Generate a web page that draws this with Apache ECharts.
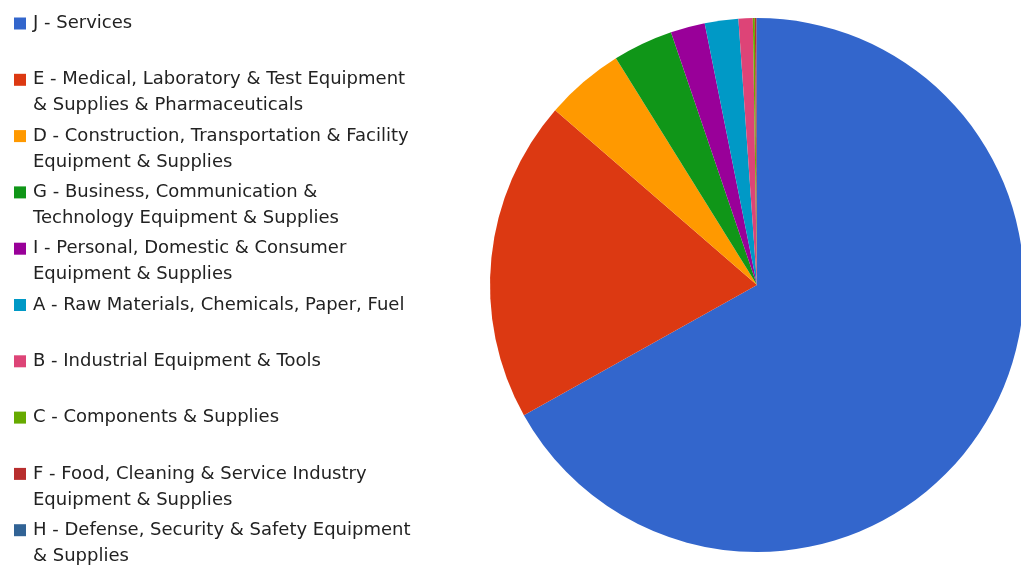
<!DOCTYPE html>
<html>
<head>
<meta charset="utf-8">
<style>
  html, body { margin: 0; padding: 0; background: #ffffff; }
  #chart { width: 1021px; height: 566px; }
</style>
<script src="https://cdn.jsdelivr.net/npm/echarts@6/dist/echarts.min.js"></script>
</head>
<body>
<div id="chart"></div>
<script>
// Segment names (line breaks as shown in the legend)
const categories = [
  'J - Services',
  'E - Medical, Laboratory & Test Equipment\n& Supplies & Pharmaceuticals',
  'D - Construction, Transportation & Facility\nEquipment & Supplies',
  'G - Business, Communication &\nTechnology Equipment & Supplies',
  'I - Personal, Domestic & Consumer\nEquipment & Supplies',
  'A - Raw Materials, Chemicals, Paper, Fuel',
  'B - Industrial Equipment & Tools',
  'C - Components & Supplies',
  'F - Food, Cleaning & Service Industry\nEquipment & Supplies',
  'H - Defense, Security & Safety Equipment\n& Supplies'
];

// Share of total for each segment (%)
const shares = [66.9, 19.47, 4.78, 3.64, 2.08, 2.03, 0.86, 0.12, 0.10, 0.03];

const colors = ['#3366cc', '#dc3912', '#ff9900', '#109618', '#990099',
                '#0099c6', '#dd4477', '#66aa00', '#b82e2e', '#316395'];

const chart = echarts.init(document.getElementById('chart'), null, { renderer: 'canvas' });

// One legend block per entry so every entry sits on a fixed pitch;
// wrapped names get a blank leading line so their first line lines up with the swatch
const ROW_TOP = 17.5, ROW_PITCH = 56.3, ICON = 12, LINE_H = 26;
const legends = categories.map((name, i) => {
  const twoLines = name.indexOf('\n') >= 0;
  const iconTop = ROW_TOP + ROW_PITCH * i;
  const offset = twoLines ? (LINE_H * 3) / 2 - ICON / 2 : LINE_H / 2 - ICON / 2;
  return {
    data: [name],
    left: 14,
    top: iconTop - offset,
    padding: 0,
    orient: 'vertical',
    icon: 'rect',
    itemWidth: ICON,
    itemHeight: ICON,
    itemGap: 7,
    selectedMode: false,
    formatter: n => (twoLines ? '\n' + n : n),
    textStyle: {
      fontFamily: 'DejaVu Sans',
      fontSize: 18,
      color: '#222222',
      lineHeight: LINE_H,
      padding: [0, 0, 0, 2]
    }
  };
});

chart.setOption({
  animation: false,
  color: colors,
  legend: legends,
  series: [{
    type: 'pie',
    center: [757, 285],
    radius: 267,
    startAngle: 90,
    clockwise: true,
    label: { show: false },
    labelLine: { show: false },
    emphasis: { disabled: true },
    itemStyle: { borderWidth: 0 },
    data: categories.map((name, i) => ({ name: name, value: shares[i] }))
  }]
});
</script>
</body>
</html>
